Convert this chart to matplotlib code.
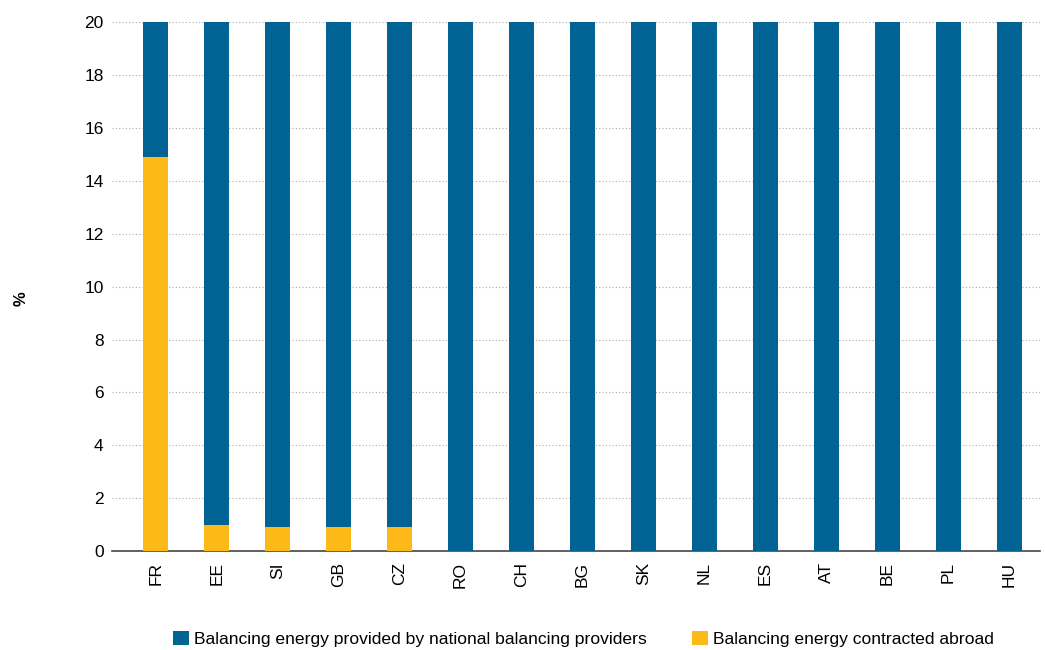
import matplotlib
matplotlib.use("Agg")
import matplotlib.pyplot as plt
import numpy as np

plt.rcParams["font.family"] = ["Liberation Sans", "DejaVu Sans"]

countries = ["FR", "EE", "SI", "GB", "CZ", "RO", "CH", "BG", "SK", "NL",
             "ES", "AT", "BE", "PL", "HU"]
abroad = [14.9, 1.0, 0.9, 0.9, 0.9, 0, 0, 0, 0, 0, 0, 0, 0, 0, 0]
national = [100 - a for a in abroad]

BLUE = "#006394"
YELLOW = "#fcb918"

fig = plt.figure(figsize=(10.46, 6.5), dpi=100)
ax = fig.add_axes([0.107, 0.152, 0.887, 0.814])

x = np.arange(len(countries))
w = 0.41
ax.bar(x, abroad, w, color=YELLOW, label="Balancing energy contracted abroad", zorder=3)
ax.bar(x, national, w, bottom=abroad, color=BLUE,
       label="Balancing energy provided by national balancing providers", zorder=3)

ax.set_ylim(0, 20)
ax.set_xlim(-0.72, 14.5)
ax.set_yticks(range(0, 21, 2))
ax.set_xticks(x)
ax.set_xticklabels(countries, rotation=90)
ax.tick_params(axis="both", length=0, labelsize=12.5, pad=6)
ax.tick_params(axis="x", pad=8)
ax.yaxis.grid(True, linestyle=(0, (1, 2)), color="#aaaaaa", linewidth=0.8, zorder=0)

for s in ["left", "right", "top"]:
    ax.spines[s].set_visible(False)
ax.spines["bottom"].set_color("#444444")
ax.spines["bottom"].set_linewidth(1.2)

fig.text(0.02, 0.54, "%", rotation=90, fontsize=12, fontweight="bold",
         va="center", ha="center")

handles, labels = ax.get_legend_handles_labels()
fig.legend(handles[::-1], labels[::-1], loc="center", bbox_to_anchor=(0.558, 0.017),
           ncol=2, frameon=False, fontsize=12.6, handlelength=0.9, handleheight=0.9,
           columnspacing=2.6, handletextpad=0.3)

fig.savefig("out.png", dpi=100)
